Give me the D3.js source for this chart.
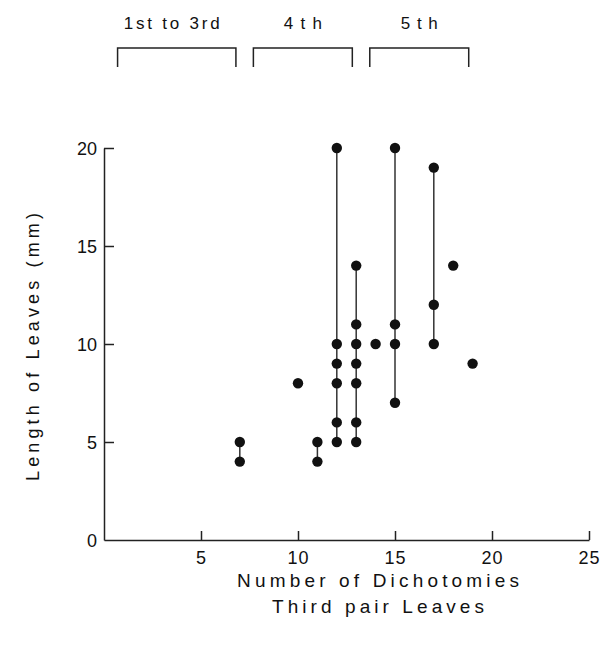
<!DOCTYPE html>
<html>
<head>
<meta charset="utf-8">
<script src="https://cdn.jsdelivr.net/npm/d3@7"></script>
<style>
  body { margin: 0; background: #fff; }
  text { font-family: "Liberation Sans", Arial, sans-serif; fill: #111; }
</style>
</head>
<body>
<svg width="613" height="645"></svg>
<script>
// dichotomy counts (x) and leaf lengths in mm (y)
var dichotomies = [7, 10, 11, 12, 13, 14, 15, 17, 18, 19];
var lengths = [
  [4, 5],
  [8],
  [4, 5],
  [5, 6, 8, 9, 10, 20],
  [5, 6, 8, 9, 10, 11, 14],
  [10],
  [7, 10, 11, 20],
  [10, 12, 19],
  [14],
  [9]
];
var xTicks = [5, 10, 15, 20, 25];
var yTicks = [0, 5, 10, 15, 20];
var groupLabels = ["1st to 3rd", "4th", "5th"];
var groupStart = [0.7, 7.7, 13.7];
var groupEnd = [6.8, 12.8, 18.8];

var svg = d3.select("svg");
var x = d3.scaleLinear().domain([0, 25]).range([104, 589]);
var y = d3.scaleLinear().domain([0, 20]).range([540, 148]);

// axes
var xAxis = svg.append("g").attr("transform", "translate(0," + y(0) + ")")
  .call(d3.axisTop(x).tickValues(xTicks).tickSize(9).tickSizeOuter(0).tickFormat(""));
xAxis.selectAll("text").remove();
xAxis.selectAll(".tick").append("text")
  .attr("y", 24).attr("text-anchor", "middle").attr("font-size", 18)
  .attr("letter-spacing", 1)
  .text(function(d) { return d; });

svg.append("g").attr("transform", "translate(" + x(0) + ",0)")
  .call(d3.axisRight(y).tickValues(yTicks.filter(function(d) { return d > 0; })).tickSize(10).tickSizeOuter(0).tickFormat(""));
svg.selectAll(".domain").attr("stroke", "#222").attr("stroke-width", 1.5);
svg.selectAll(".tick line").attr("stroke", "#222").attr("stroke-width", 1.5);

svg.append("g").selectAll("text").data(yTicks).enter().append("text")
  .attr("x", x(0) - 7).attr("y", function(d) { return y(d) + 6.5; })
  .attr("text-anchor", "end").attr("font-size", 18)
  .text(function(d) { return d; });

// vertical range lines
var cols = dichotomies.map(function(d, i) { return { x: d, v: lengths[i] }; });
svg.append("g").selectAll("line").data(cols.filter(function(c) { return c.v.length > 1; }))
  .enter().append("line")
  .attr("x1", function(c) { return x(c.x); }).attr("x2", function(c) { return x(c.x); })
  .attr("y1", function(c) { return y(d3.min(c.v)); })
  .attr("y2", function(c) { return y(d3.max(c.v)); })
  .attr("stroke", "#333").attr("stroke-width", 1.5);

var pts = [];
cols.forEach(function(c) { c.v.forEach(function(v) { pts.push([c.x, v]); }); });
svg.append("g").selectAll("circle").data(pts).enter().append("circle")
  .attr("cx", function(d) { return x(d[0]); })
  .attr("cy", function(d) { return y(d[1]); })
  .attr("r", 5.2).attr("fill", "#111");

// leaf pair brackets
var labelW = [96, 38, 37];
var brackets = svg.append("g");
groupLabels.forEach(function(lab, i) {
  var x0 = x(groupStart[i]), x1 = x(groupEnd[i]);
  brackets.append("path")
    .attr("d", "M" + x0 + ",67V48H" + x1 + "V67")
    .attr("fill", "none").attr("stroke", "#222").attr("stroke-width", 1.5);
  brackets.append("text")
    .attr("x", (x0 + x1) / 2 - (i == 0 ? 5 : 0)).attr("y", 29)
    .attr("text-anchor", "middle").attr("font-size", 17)
    .attr("textLength", labelW[i]).attr("lengthAdjust", "spacing")
    .text(lab);
});

// axis titles
svg.append("text")
  .attr("transform", "translate(39,347) rotate(-90)")
  .attr("text-anchor", "middle").attr("font-size", 18)
  .attr("textLength", 268).attr("lengthAdjust", "spacing")
  .text("Length of Leaves (mm)");
svg.append("text").attr("x", 378).attr("y", 587)
  .attr("text-anchor", "middle").attr("font-size", 19)
  .attr("textLength", 282).attr("lengthAdjust", "spacing")
  .text("Number of Dichotomies");
svg.append("text").attr("x", 378).attr("y", 613)
  .attr("text-anchor", "middle").attr("font-size", 19)
  .attr("textLength", 212).attr("lengthAdjust", "spacing")
  .text("Third pair Leaves");
</script>
</body>
</html>
